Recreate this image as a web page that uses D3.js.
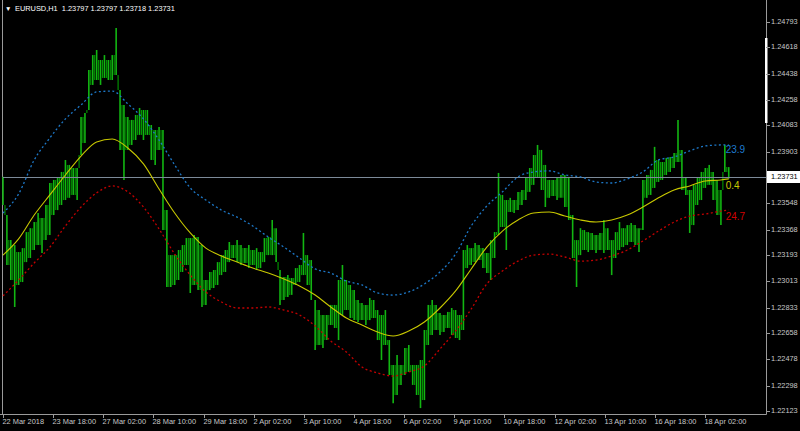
<!DOCTYPE html>
<html><head><meta charset="utf-8">
<script src="https://cdn.jsdelivr.net/npm/d3@7"></script>
<style>
html,body{margin:0;padding:0;background:#000;}
svg{display:block;}
text{font-family:"Liberation Sans",Arial,sans-serif;}
</style></head>
<body>
<svg id="c" width="800" height="431"></svg>
<script>
// ---- data (EURUSD H1, sampled columns, ~2.5 hourly bars per column) ----
const highs = [1.23730,1.23468,1.23296,1.23262,1.23214,1.23241,1.23351,1.23378,1.23420,1.23482,
1.23447,1.23537,1.23688,1.23709,1.23723,1.23764,1.23846,1.23812,1.23791,1.23791,
1.24141,1.24169,1.24464,1.24566,1.24601,1.24532,1.24566,1.24532,1.24566,1.24752,
1.24326,1.24224,1.24141,1.24121,1.24155,1.24203,1.24189,1.24189,1.24086,1.24052,
1.24073,1.24052,1.23502,1.23193,1.23193,1.23228,1.23262,1.23310,1.23310,1.23331,
1.23317,1.23262,1.23022,1.23077,1.23091,1.23145,1.23193,1.23228,1.23283,1.23262,
1.23296,1.23262,1.23241,1.23262,1.23228,1.23241,1.23214,1.23310,1.23317,1.23434,
1.23378,1.23091,1.23043,1.23056,1.23036,1.23104,1.23125,1.23345,1.23193,1.23159,
1.22885,1.22816,1.22782,1.22782,1.22851,1.22851,1.23022,1.23125,1.23022,1.22988,
1.22953,1.22885,1.22864,1.22851,1.22899,1.22885,1.22816,1.22782,1.22816,1.22610,
1.22439,1.22507,1.22439,1.22555,1.22576,1.22439,1.22439,1.22473,1.22679,1.22851,
1.22885,1.22851,1.22796,1.22782,1.22803,1.22830,1.22816,1.22782,1.23228,1.23262,
1.23241,1.23276,1.23262,1.23241,1.23207,1.23296,1.23351,1.23757,1.23606,1.23571,
1.23586,1.23571,1.23627,1.23640,1.23723,1.23791,1.23880,1.23949,1.23915,1.23812,
1.23709,1.23709,1.23723,1.23743,1.23743,1.23730,1.23468,1.23296,1.23378,1.23365,
1.23351,1.23345,1.23331,1.23345,1.23434,1.23378,1.23296,1.23351,1.23420,1.23378,
1.23399,1.23413,1.23399,1.23378,1.23709,1.23743,1.23778,1.23936,1.23846,1.23832,
1.23860,1.23867,1.23894,1.24121,1.23915,1.23723,1.23640,1.23675,1.23723,1.23764,
1.23791,1.23812,1.23764,1.23709,1.23640,1.23949,1.23797];
const lows = [1.23537,1.23125,1.23022,1.22837,1.22988,1.23008,1.23145,1.23173,1.23228,1.23262,
1.23207,1.23296,1.23331,1.23468,1.23502,1.23537,1.23571,1.23586,1.23606,1.23571,
1.23880,1.23963,1.24189,1.24361,1.24395,1.24361,1.24409,1.24395,1.24395,1.24429,
1.23915,1.23709,1.23915,1.23949,1.23983,1.24018,1.23983,1.24018,1.23846,1.23812,
1.23915,1.23365,1.22974,1.22974,1.22988,1.23022,1.23077,1.23125,1.22933,1.22988,
1.22953,1.22837,1.22851,1.22953,1.22967,1.22988,1.23056,1.23077,1.23145,1.23173,
1.23145,1.23125,1.23139,1.23104,1.23125,1.23091,1.23104,1.23145,1.23193,1.23193,
1.23145,1.22851,1.22885,1.22906,1.22920,1.22988,1.23008,1.23056,1.22988,1.22885,
1.22542,1.22576,1.22555,1.22610,1.22713,1.22693,1.22610,1.22782,1.22816,1.22761,
1.22747,1.22734,1.22747,1.22713,1.22747,1.22761,1.22610,1.22473,1.22576,1.22370,
1.22177,1.22233,1.22302,1.22370,1.22391,1.22302,1.22233,1.22143,1.22198,1.22576,
1.22645,1.22679,1.22645,1.22665,1.22693,1.22645,1.22624,1.22610,1.22679,1.23104,
1.23125,1.23145,1.23159,1.23104,1.23070,1.23022,1.23173,1.23331,1.23386,1.23228,
1.23489,1.23482,1.23502,1.23537,1.23571,1.23627,1.23675,1.23723,1.23640,1.23523,
1.23586,1.23599,1.23571,1.23586,1.23523,1.23434,1.23173,1.22974,1.23193,1.23228,
1.23214,1.23228,1.23207,1.23228,1.23207,1.23228,1.23056,1.23173,1.23228,1.23248,
1.23262,1.23283,1.23262,1.23214,1.23365,1.23586,1.23606,1.23654,1.23695,1.23709,
1.23743,1.23764,1.23791,1.23832,1.23640,1.23606,1.23345,1.23399,1.23537,1.23571,
1.23654,1.23675,1.23571,1.23468,1.23399,1.23764,1.23718];
// indicator bands, one value every 4 columns (last = final column)
const midLine = [1.23193,1.23304,1.23468,1.23606,1.23743,1.23873,1.23970,1.23990,1.23928,1.23819,
1.23647,1.23482,1.23345,1.23241,1.23187,1.23145,1.23104,1.23070,1.23029,1.22981,
1.22919,1.22837,1.22761,1.22713,1.22665,1.22638,1.22672,1.22734,1.22830,1.22947,
1.23098,1.23248,1.23358,1.23434,1.23482,1.23489,1.23461,1.23434,1.23420,1.23434,
1.23468,1.23523,1.23586,1.23640,1.23668,1.23702,1.23709,1.23716];
const upperBand = [1.23482,1.23613,1.23846,1.23997,1.24128,1.24224,1.24313,1.24319,1.24231,1.24128,
1.23983,1.23812,1.23654,1.23571,1.23502,1.23454,1.23393,1.23317,1.23248,1.23173,
1.23098,1.23070,1.23015,1.22988,1.22933,1.22919,1.22940,1.22995,1.23077,1.23200,
1.23393,1.23530,1.23627,1.23730,1.23764,1.23771,1.23743,1.23730,1.23695,1.23688,
1.23716,1.23764,1.23846,1.23867,1.23908,1.23942,1.23949,1.23949];
const lowerBand = [1.22913,1.23022,1.23139,1.23248,1.23393,1.23523,1.23620,1.23668,1.23627,1.23523,
1.23372,1.23200,1.23056,1.22940,1.22871,1.22830,1.22830,1.22837,1.22816,1.22782,
1.22707,1.22604,1.22528,1.22425,1.22384,1.22363,1.22391,1.22432,1.22549,1.22672,
1.22823,1.22995,1.23084,1.23152,1.23193,1.23200,1.23180,1.23152,1.23159,1.23187,
1.23228,1.23290,1.23358,1.23420,1.23461,1.23475,1.23495,1.23502];
const bandLabels = ["23.9","0.4","24.7"];
const priceTicks = [1.24793,1.24618,1.24438,1.24258,1.24083,1.23903,1.23548,1.23368,1.23193,1.23013,1.22833,1.22658,1.22478,1.22298,1.22123];
const timeLabels = ["22 Mar 2018","23 Mar 18:00","27 Mar 02:00","28 Mar 10:00","29 Mar 18:00","2 Apr 02:00","3 Apr 10:00","4 Apr 18:00","6 Apr 02:00","9 Apr 10:00","10 Apr 18:00","12 Apr 02:00","13 Apr 10:00","16 Apr 18:00","18 Apr 02:00"];
const barsPerLabel = 32;
const barsPerColumn = 2.49;
const bandEvery = 4;
const lastPrice = 1.23731;
const header = "EURUSD,H1  1.23797 1.23797 1.23718 1.23731";

// ---- drawing ----
const svg = d3.select("#c");
const N = highs.length;
const x = d3.scaleLinear().domain([0, (timeLabels.length-1)*barsPerLabel]).range([3, 705]);
const y = d3.scaleLinear().domain([1.22123, 1.24793]).range([411, 22]);
const colX = j => x(j*barsPerColumn);
const axisX = 766, axisY = 414;
const fg = "#c8c8c8";

// frame
svg.append("line").attr("x1",2.5).attr("x2",2.5).attr("y1",0).attr("y2",axisY).attr("stroke","#9a9a9a");
svg.append("line").attr("x1",axisX+0.5).attr("x2",axisX+0.5).attr("y1",0).attr("y2",axisY+0.5).attr("stroke","#9a9a9a");
svg.append("line").attr("x1",0).attr("x2",axisX+0.5).attr("y1",axisY+0.5).attr("y2",axisY+0.5).attr("stroke","#9a9a9a");
svg.append("rect").attr("x",axisX-1).attr("y",38).attr("width",2.5).attr("height",85).attr("fill","#fff");

// price bars: each column plus a transition stroke between neighbouring columns
const g = svg.append("g");
const pairs = d3.range(N-1);
g.selectAll("line.tr").data(pairs).join("line").attr("class","tr")
  .attr("x1", j => (colX(j)+colX(j+1))/2).attr("x2", j => (colX(j)+colX(j+1))/2)
  .attr("y1", j => y(Math.min(highs[j], highs[j+1])))
  .attr("y2", j => y(Math.max(lows[j], lows[j+1])))
  .attr("stroke", "#009a00").attr("stroke-width", 1.1);
g.selectAll("line.bar").data(d3.range(N)).join("line").attr("class","bar")
  .attr("x1", j => colX(j)).attr("x2", j => colX(j))
  .attr("y1", j => y(highs[j])).attr("y2", j => y(lows[j]))
  .attr("stroke", "#12b612").attr("stroke-width", 1.6);

// current price line
svg.append("line").attr("x1",3).attr("x2",axisX).attr("y1",Math.round(y(lastPrice))+0.5).attr("y2",Math.round(y(lastPrice))+0.5)
  .attr("stroke","#7c8a99").attr("stroke-width",1);

// indicator lines
const bandX = k => colX(Math.min(k*bandEvery, N-1));
const lineGen = d3.line().x((d,k)=>bandX(k)).y(d=>y(d)).curve(d3.curveMonotoneX);
svg.append("path").attr("d", lineGen(upperBand)).attr("fill","none").attr("stroke","#1d78c8").attr("stroke-width",1.3).attr("stroke-dasharray","2,2.5");
svg.append("path").attr("d", lineGen(lowerBand)).attr("fill","none").attr("stroke","#c40000").attr("stroke-width",1.3).attr("stroke-dasharray","2,2.5");
svg.append("path").attr("d", lineGen(midLine)).attr("fill","none").attr("stroke","#c8c800").attr("stroke-width",1.1);

// band value labels
const lastK = upperBand.length-1;
const bandInfo = [[upperBand,"#1e7ad0",5],[midLine,"#c8c800",7],[lowerBand,"#d20000",7]];
bandInfo.forEach((b,i)=>{
  svg.append("text").attr("x", bandX(lastK)-3).attr("y", y(b[0][lastK]) + b[2])
    .attr("dominant-baseline","middle").attr("fill", b[1]).attr("font-size", 10).text(bandLabels[i]);
});

// right price axis
const ra = svg.append("g");
priceTicks.forEach(p=>{
  const yy = Math.round(y(p))+0.5;
  ra.append("line").attr("x1",axisX).attr("x2",axisX+4).attr("y1",yy).attr("y2",yy).attr("stroke","#9a9a9a");
  ra.append("text").attr("x",axisX+5).attr("y",yy).attr("dominant-baseline","middle")
    .attr("fill",fg).attr("font-size",7.4).text(p.toFixed(5));
});
const ly = Math.round(y(lastPrice));
ra.append("rect").attr("x",axisX+1).attr("y",ly-6).attr("width",800-axisX-1).attr("height",12).attr("fill","#fff");
ra.append("text").attr("x",axisX+5).attr("y",ly+0.5).attr("dominant-baseline","middle").attr("fill","#000").attr("font-size",7.4).text(lastPrice.toFixed(5));

// bottom time axis
timeLabels.forEach((t,i)=>{
  const xx = Math.round(x(i*barsPerLabel))+0.5;
  svg.append("line").attr("x1",xx).attr("x2",xx).attr("y1",axisY).attr("y2",axisY+4).attr("stroke","#9a9a9a");
  svg.append("text").attr("x",xx-1).attr("y",424).attr("fill",fg).attr("font-size",7.4).text(t);
});

// header
svg.append("text").attr("x",5).attr("y",11).attr("fill","#fff").attr("font-size",6.5).attr("font-family","DejaVu Sans").text("▼");
svg.append("text").attr("x",15).attr("y",11).attr("fill","#fff").attr("font-size",7.4).attr("xml:space","preserve").style("white-space","pre").text(header);
</script>
</body></html>
